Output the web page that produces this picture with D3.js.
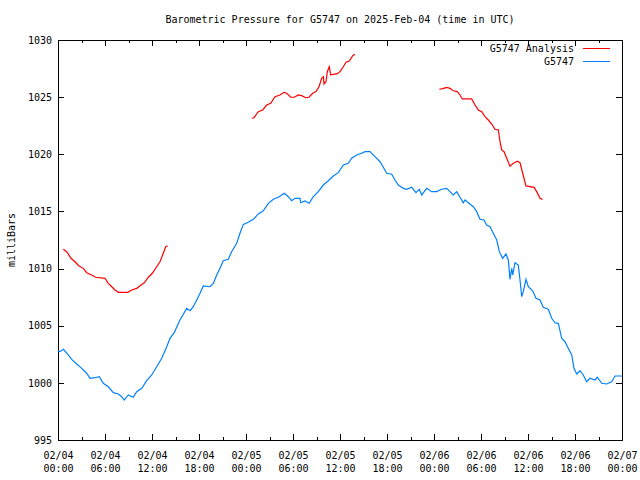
<!DOCTYPE html>
<html><head><meta charset="utf-8">
<script src="https://cdn.jsdelivr.net/npm/d3@7"></script>
<style>
html,body{margin:0;padding:0;background:#fff;}
svg{display:block;}
text{font-family:"DejaVu Sans Mono","Liberation Mono",monospace;font-size:10px;fill:#000;}
</style></head><body>
<svg id="chart" width="640" height="480"></svg>
<script>
const titleText = "Barometric Pressure for G5747 on 2025-Feb-04 (time in UTC)";
const yLabelText = "milliBars";
const seriesNames = ["G5747 Analysis", "G5747"];
const seriesColors = ["#ff0000", "#0080ff"];
const yTicks = [995, 1000, 1005, 1010, 1015, 1020, 1025, 1030];
const xMajorHours = [0, 6, 12, 18, 24, 30, 36, 42, 48, 54, 60, 66, 72];
const xMinorHours = [3, 9, 15, 21, 27, 33, 39, 45, 51, 57, 63, 69];

// G5747 observations (hours after 2025-02-04 00:00 UTC, mb)
const blueHours = [0,0.26,0.68,1.31,1.75,2.39,3.03,3.66,4.09,4.72,5.27,5.78,6.42,7.06,7.70,8.13,8.46,8.97,9.61,10.05,10.69,11.32,11.96,12.60,13.24,13.88,14.30,14.85,15.57,16.43,16.85,17.27,17.71,18.13,18.55,19.40,19.83,20.26,20.68,21.10,21.74,22.17,22.81,23.23,23.66,24.29,24.93,25.57,26.21,26.85,27.49,28.12,28.89,29.40,29.83,30.26,30.89,30.98,31.53,32.08,32.59,33.23,33.87,34.51,35.14,35.78,36.42,37.06,37.49,38.13,38.77,39.19,39.83,40.47,41.11,41.53,41.96,42.60,43.02,43.44,44.08,44.52,45.15,45.70,46.12,46.43,47.07,47.71,48.34,48.98,49.62,50.04,50.46,50.90,51.32,51.74,51.96,52.38,53.02,53.45,53.87,54.38,54.73,55.15,55.57,56.01,56.34,56.77,57.19,57.49,57.70,57.92,58.05,58.34,58.76,58.98,59.20,59.40,59.74,60.04,60.60,61.02,61.53,61.95,62.59,63.03,63.45,63.87,64.30,64.72,65.14,65.58,65.87,66.22,66.64,67.06,67.49,67.92,68.55,68.85,69.41,70.04,70.68,71.11,72];
const blueValues = [1002.8,1002.73,1002.94,1002.44,1002.06,1001.65,1001.27,1000.84,1000.40,1000.45,1000.54,999.96,999.66,999.14,999.03,998.79,998.5,998.94,998.74,999.23,999.52,1000.19,1000.69,1001.41,1002.15,1003.16,1003.90,1004.42,1005.5,1006.52,1006.31,1006.66,1007.25,1007.84,1008.48,1008.41,1008.71,1009.44,1010.02,1010.69,1010.81,1011.48,1012.21,1013.09,1013.87,1014.05,1014.31,1014.78,1015.06,1015.71,1016.06,1016.24,1016.59,1016.29,1015.94,1016.15,1016.15,1015.76,1015.91,1015.71,1016.29,1016.73,1017.31,1017.69,1018.1,1018.39,1019.06,1019.21,1019.65,1019.94,1020.09,1020.23,1020.23,1019.79,1019.35,1018.86,1018.34,1018.25,1017.75,1017.31,1017.02,1016.94,1017.11,1016.64,1016.94,1016.44,1017.02,1016.73,1016.73,1016.94,1017.02,1016.73,1016.44,1016.73,1016.24,1015.76,1016.0,1015.76,1015.41,1014.98,1014.31,1014.25,1013.81,1013.66,1013.09,1012.5,1011.48,1010.90,1011.28,1010.75,1009.06,1010.02,1009.44,1010.51,1010.31,1009.0,1007.54,1007.98,1009.06,1008.41,1008.06,1007.40,1007.25,1006.61,1006.44,1005.65,1005.26,1005.21,1003.90,1003.60,1003.02,1002.44,1001.27,1000.78,1001.06,1000.69,1000.10,1000.40,1000.25,1000.49,999.96,999.90,1000.10,1000.60,1000.60];

// G5747 Analysis (three segments)
const red1Hours = [0.68,1.11,1.66,2.17,2.68,3.23,3.66,4.30,4.81,6.0,6.42,6.86,7.28,7.70,8.90,9.41,10.05,10.60,11.02,11.53,12.04,12.60,13.02,13.44,13.75,14.0];
const red1Values = [1011.69,1011.48,1010.90,1010.60,1010.23,1010.02,1009.64,1009.44,1009.24,1009.15,1008.71,1008.41,1008.13,1007.92,1007.92,1008.13,1008.27,1008.56,1008.76,1009.24,1009.59,1010.16,1010.60,1011.34,1011.91,1011.98];
const red2Hours = [24.73,25.02,25.57,26.13,26.64,27.15,27.70,28.34,28.85,29.20,29.71,30.17,30.68,31.11,31.62,32.04,32.51,32.94,33.32,33.66,33.87,33.96,34.21,34.38,34.63,34.81,35.15,35.66,36.0,36.42,36.77,37.19,37.62,37.91];
const red2Values = [1023.15,1023.20,1023.73,1023.88,1024.31,1024.46,1025.04,1025.19,1025.42,1025.34,1024.99,1024.99,1025.19,1025.13,1024.95,1024.99,1025.34,1025.48,1025.91,1026.65,1026.79,1026.15,1026.35,1027.23,1027.66,1026.94,1027.0,1027.05,1027.23,1027.66,1028.05,1028.16,1028.63,1028.75];
const red3Hours = [48.68,49.11,49.62,50.04,50.46,50.97,51.32,51.61,52.81,53.23,53.66,54.09,54.51,54.93,55.37,55.79,56.21,56.43,56.64,56.94,57.28,57.70,58.13,58.64,58.98,59.32,59.74,60.77,61.11,61.53,61.85];
const red3Values = [1025.69,1025.74,1025.86,1025.77,1025.56,1025.48,1025.19,1024.84,1024.84,1024.31,1023.88,1023.73,1023.29,1023.0,1022.65,1022.19,1022.13,1021.10,1020.38,1020.23,1019.65,1018.95,1019.21,1019.39,1019.26,1018.34,1017.23,1017.11,1016.73,1016.15,1016.04];

const t0 = Date.UTC(2025, 1, 4);
const toDate = h => new Date(t0 + h * 3600e3);

const svg = d3.select("#chart");
const m = {left: 58, right: 622, top: 40, bottom: 440};

const x = d3.scaleUtc().domain([toDate(0), toDate(72)]).range([m.left, m.right]);
const y = d3.scaleLinear().domain([995, 1030]).range([m.bottom, m.top]);

// axes
const fmtDate = d3.utcFormat("%m/%d"), fmtTime = d3.utcFormat("%H:%M");
const gx = svg.append("g").attr("transform", `translate(0,${m.bottom})`)
  .call(d3.axisBottom(x).tickValues(xMajorHours.map(toDate)).tickSize(-6).tickPadding(9).tickFormat(""));
gx.selectAll(".tick text").remove();
gx.selectAll(".tick").append("text").attr("text-anchor", "middle")
  .each(function(d){
    const t = d3.select(this);
    t.append("tspan").attr("x", 0).attr("y", 19).text(fmtDate(d));
    t.append("tspan").attr("x", 0).attr("y", 32).text(fmtTime(d));
  });
svg.append("g").attr("transform", `translate(0,${m.bottom})`)
  .call(d3.axisBottom(x).tickValues(xMinorHours.map(toDate)).tickSize(-3).tickFormat(""));
svg.append("g").attr("transform", `translate(0,${m.top})`)
  .call(d3.axisTop(x).tickValues(xMajorHours.map(toDate)).tickSize(-6).tickFormat(""));
svg.append("g").attr("transform", `translate(0,${m.top})`)
  .call(d3.axisTop(x).tickValues(xMinorHours.map(toDate)).tickSize(-3).tickFormat(""));
svg.append("g").attr("transform", `translate(${m.left},0)`)
  .call(d3.axisLeft(y).tickValues(yTicks).tickSize(-6).tickPadding(6).tickFormat(d3.format("d")));
svg.append("g").attr("transform", `translate(${m.right},0)`)
  .call(d3.axisRight(y).tickValues(yTicks).tickSize(-6).tickFormat(""));

svg.selectAll(".domain").remove();
svg.selectAll(".tick line").attr("stroke", "#000").attr("shape-rendering", "crispEdges");
svg.selectAll(".tick text").attr("font-family", null).attr("font-size", null).attr("fill", "#000");

// frame
svg.append("rect").attr("x", m.left + 0.5).attr("y", m.top + 0.5)
  .attr("width", m.right - m.left).attr("height", m.bottom - m.top)
  .attr("fill", "none").attr("stroke", "#000").attr("shape-rendering", "crispEdges");

// lines
const line = d3.line().x(d => x(toDate(d[0]))).y(d => y(d[1]));
const redSegs = [d3.zip(red1Hours, red1Values), d3.zip(red2Hours, red2Values), d3.zip(red3Hours, red3Values)];
redSegs.forEach(seg => {
  svg.append("path").datum(seg).attr("d", line).attr("fill", "none")
    .attr("stroke", seriesColors[0]).attr("stroke-width", 1.2);
});
svg.append("path").datum(d3.zip(blueHours, blueValues)).attr("d", line).attr("fill", "none")
  .attr("stroke", seriesColors[1]).attr("stroke-width", 1.2);

// title & labels
svg.append("text").attr("x", (m.left + m.right) / 2).attr("y", 23).attr("text-anchor", "middle").text(titleText);
svg.append("text").attr("transform", "translate(15,240) rotate(-90)").attr("text-anchor", "middle").text(yLabelText);

// legend
seriesNames.forEach((name, i) => {
  const ly = 48 + i * 13;
  svg.append("text").attr("x", 574).attr("y", ly + 4).attr("text-anchor", "end").text(name);
  svg.append("line").attr("x1", 583).attr("x2", 610).attr("y1", ly + 0.5).attr("y2", ly + 0.5)
    .attr("stroke", seriesColors[i]).attr("stroke-width", 1);
});
</script>
</body></html>
